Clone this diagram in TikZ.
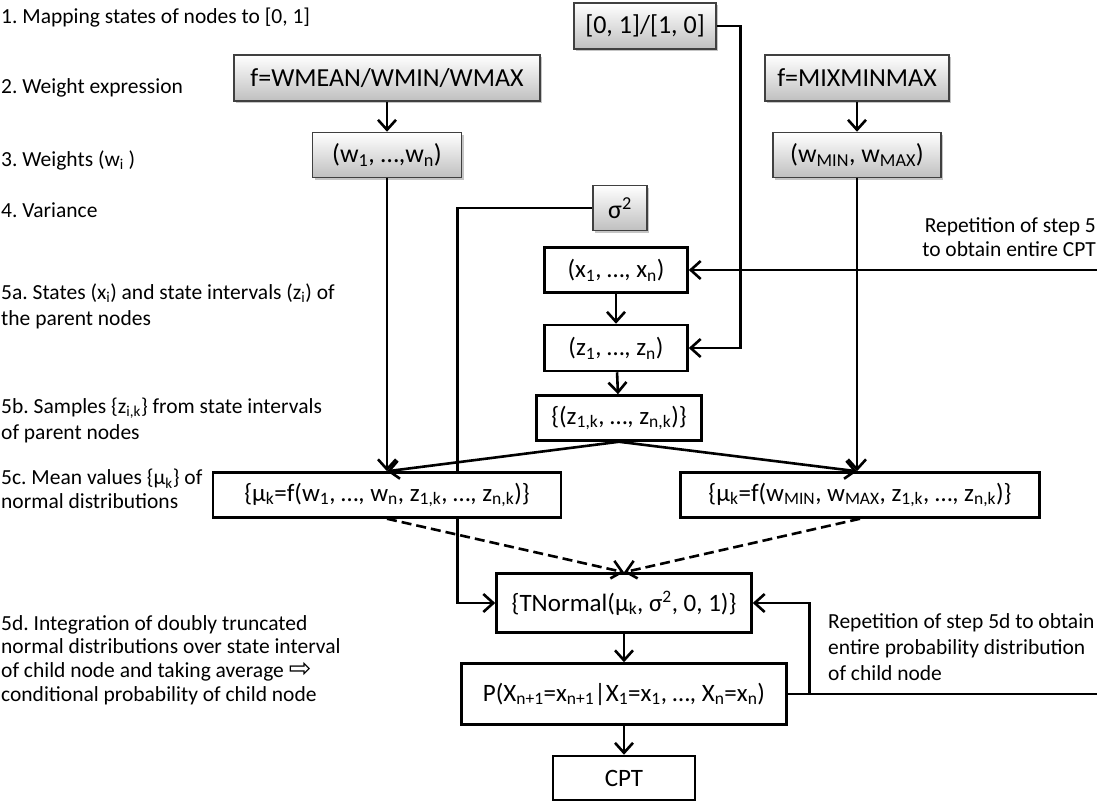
\documentclass[tikz,border=0pt]{standalone}
\usepackage{fontspec}
\setmainfont{Carlito}
\newfontfamily\symfont{DejaVu Sans}
\usetikzlibrary{arrows.meta,shadows,backgrounds}
\newcommand{\sbs}[1]{\textsubscript{#1}}
\newcommand{\sps}[1]{\textsuperscript{#1}}
\frenchspacing

\begin{document}
\begin{tikzpicture}[x=1pt,y=-1pt,
  graybox/.style={draw=black!75,line width=1.5pt,top color=white,bottom color=black!25,
    drop shadow={shadow xshift=2pt,shadow yshift=-2pt,fill=black!45},
    minimum height=46pt,inner sep=0pt,font=\fontsize{26}{28}\selectfont},
  whitebox/.style={draw,fill=white,line width=2.5pt,minimum height=45pt,inner sep=0pt,
    font=\fontsize{25}{28}\selectfont},
  lbl/.style={inner sep=0pt,font=\fontsize{21.5}{24}\selectfont},
  conn/.style={line width=2.6pt},
  arr/.style={conn,-{Straight Barb[length=10pt,width=18pt,line width=2.6pt]}}]
  \useasboundingbox (0,0) rectangle (1097,804);
  % left column: steps
  \node[lbl,anchor=west] (l1) at (1,18) {1. Mapping states of nodes to [0, 1]};
  \node[lbl,anchor=west] (l2) at (1,88) {2. Weight expression};
  \node[lbl,anchor=west] (l3) at (1,160) {3. Weights (w\sbs{i} )};
  \node[lbl,anchor=west] (l4) at (1,210) {4. Variance};
  \node[lbl,anchor=west,align=left,font=\fontsize{21.5}{26}\selectfont] (l5a) at (1,306)
    {5a. States (x\sbs{i}) and state intervals (z\sbs{i}) of\\the parent nodes};
  \node[lbl,anchor=west,align=left,font=\fontsize{21.5}{26}\selectfont] (l5b) at (1,420)
    {5b. Samples \{z\sbs{i,k}\} from state intervals\\of  parent nodes};
  \node[lbl,anchor=west,align=left,font=\fontsize{21.5}{23.5}\selectfont] (l5c) at (1,489)
    {5c. Mean values \{μ\sbs{k}\} of\\normal distributions};
  \node[lbl,anchor=west,align=left,font=\fontsize{21.5}{23.7}\selectfont] (l5d) at (1,660)
    {5d. Integration of  doubly truncated\\normal distributions over state interval\\of child node and taking average {\symfont\fontsize{27}{24}\selectfont ⇨}\\conditional probability of child node};
  % right column: repetition notes
  \node[lbl,anchor=east,align=right] (rep5) at (1096,237)
    {Repetition of step 5\\to obtain entire CPT};
  \node[lbl,anchor=west,align=left,font=\fontsize{21.5}{26}\selectfont] (rep5d) at (828,647)
    {Repetition of step 5d to obtain\\entire probability distribution\\of child node};
  % inputs
  \node[graybox,minimum width=142pt] (map) at (645,26) {[0, 1]/[1, 0]};
  \node[graybox,minimum width=306pt] (fw) at (387,78) {f=WMEAN/WMIN/WMAX};
  \node[graybox,minimum width=184pt] (fmm) at (857,78) {f=MIXMINMAX};
  \node[graybox,minimum width=149pt,minimum height=45pt] (w) at (387,155) {(w\sbs{1}, …,w\sbs{n})};
  \node[graybox,minimum width=168pt,minimum height=45pt] (wmm) at (857,155) {(w\sbs{MIN}, w\sbs{MAX})};
  \node[graybox,minimum width=54pt,minimum height=45pt] (sig) at (620,208) {σ\sps{2}};
  % central chain
  \node[whitebox,minimum width=143pt] (x) at (616,270) {(x\sbs{1}, …, x\sbs{n})};
  \node[whitebox,minimum width=143pt,minimum height=46pt] (z) at (616,348) {(z\sbs{1}, …, z\sbs{n})};
  \node[whitebox,minimum width=165pt] (zk) at (619,418) {\{(z\sbs{1,k}, …, z\sbs{n,k})\}};
  \node[whitebox,minimum width=348pt] (muL) at (387,495)
    {\{μ\sbs{k}=f(w\sbs{1}, …, w\sbs{n}, z\sbs{1,k}, …, z\sbs{n,k})\}};
  \node[whitebox,minimum width=359pt] (muR) at (860,495)
    {\{μ\sbs{k}=f(w\sbs{MIN}, w\sbs{MAX}, z\sbs{1,k}, …, z\sbs{n,k})\}};
  \node[whitebox,minimum width=255pt,minimum height=59pt] (tn) at (624,603)
    {\{TNormal(μ\sbs{k}, σ\sps{2}, 0, 1)\}};
  \node[whitebox,minimum width=325pt,minimum height=61pt] (p) at (624,694)
    {P(X\sbs{n+1}=x\sbs{n+1}|X\sbs{1}=x\sbs{1}, …, X\sbs{n}=x\sbs{n})};
  \node[whitebox,minimum width=142pt,minimum height=44pt] (cpt) at (624,778) {CPT};
  \coordinate (rx) at (1097,270);
  \coordinate (rp) at (1097,694);
  % connectors
  \draw[arr] (fw) -- (w);
  \draw[arr] (fmm) -- (wmm);
  \draw[arr] (w) -- (muL);
  \draw[arr] (wmm) -- (wmm.south |- muR.north);
  \draw[arr] (map.east) -- ++(24,0) |- (z.east);
  \draw[arr] (rx) -- (x.east);
  \draw[arr] (x) -- (z);
  \draw[arr] (z) -- (zk);
  \draw[arr] (zk.south) -- (w.south |- muL.north);
  \draw[arr] (zk.south) -- (wmm.south |- muR.north);
  \draw[arr,dash pattern=on 10pt off 5pt] (muL.south) -- (tn.north);
  \draw[arr,dash pattern=on 10pt off 5pt] (muR.south) -- (tn.north);
  \begin{pgfonlayer}{background}
    \draw[arr] (sig.west) -- ++(-135,0) |- (tn.west);
  \end{pgfonlayer}
  \draw[arr] (tn) -- (p);
  \draw[arr] (p) -- (cpt);
  \draw[conn] (p.east) -- (rp);
  \draw[arr] (p.east) ++(22,0) |- (tn.east);
\end{tikzpicture}
\end{document}
